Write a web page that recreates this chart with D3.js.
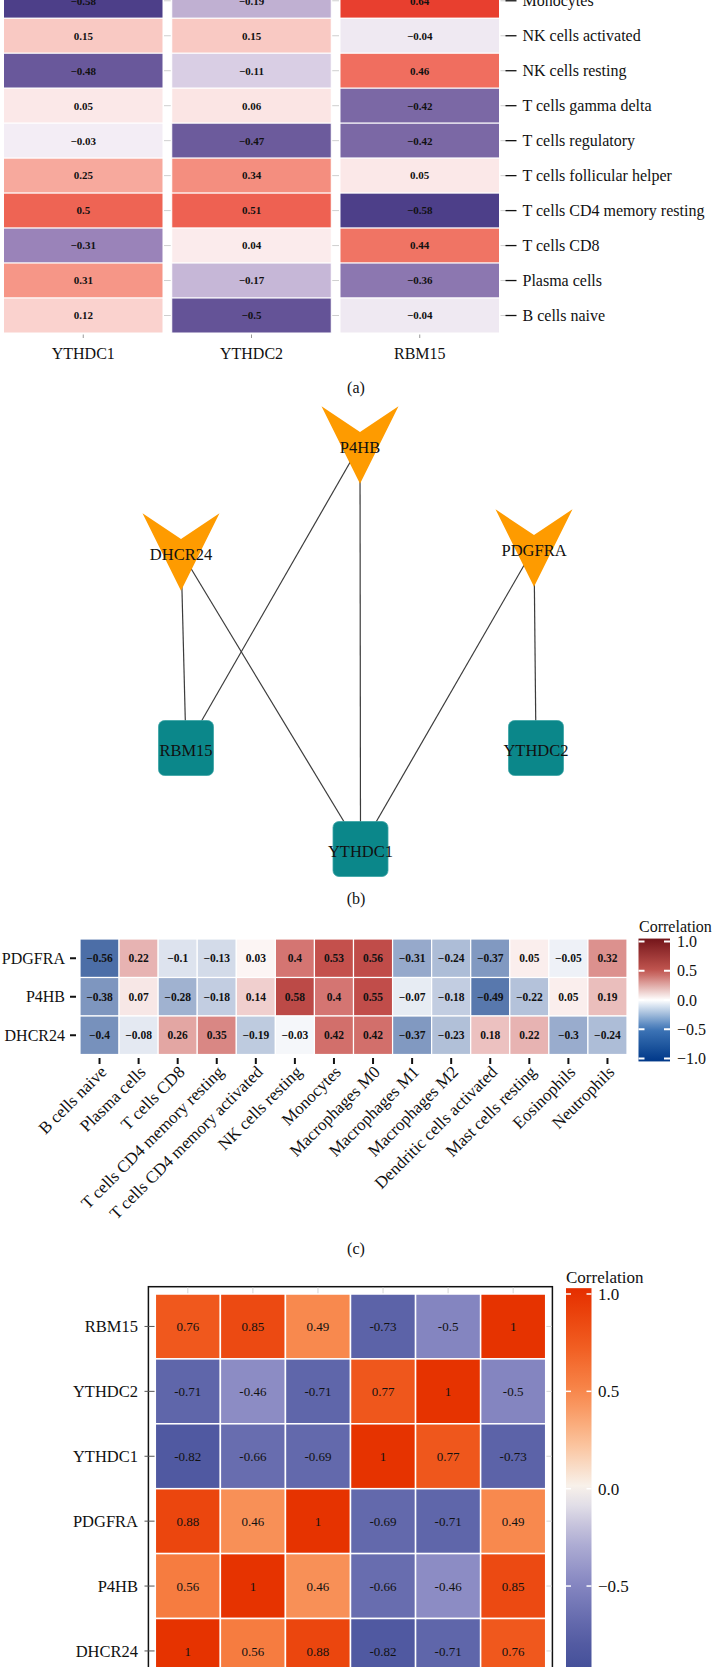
<!DOCTYPE html>
<html>
<head>
<meta charset="utf-8">
<script src="https://cdn.jsdelivr.net/npm/d3@7"></script>
<style>
  body { margin: 0; background: #fff; }
  svg text { font-family: "Liberation Serif", "DejaVu Serif", serif; fill: #111; }
</style>
</head>
<body>
<div id="chart"></div>
<script>
// ---------- data ----------
// (a) gene vs immune cell correlation
const aGenes = ["YTHDC1", "YTHDC2", "RBM15"]
const aCells = ["Monocytes", "NK cells activated", "NK cells resting", "T cells gamma delta",
  "T cells regulatory", "T cells follicular helper", "T cells CD4 memory resting",
  "T cells CD8", "Plasma cells", "B cells naive"]
const aYTHDC1 = [-0.58, 0.15, -0.48, 0.05, -0.03, 0.25, 0.5, -0.31, 0.31, 0.12]
const aYTHDC2 = [-0.19, 0.15, -0.11, 0.06, -0.47, 0.34, 0.51, 0.04, -0.17, -0.5]
const aRBM15 = [0.64, -0.04, 0.46, -0.42, -0.42, 0.05, -0.58, 0.44, -0.36, -0.04]

// (b) network
const netNodes = [
  { id: "P4HB", kind: "hub", lx: 179, ly: 0 },
  { id: "DHCR24", kind: "hub", lx: 0, ly: 107 },
  { id: "PDGFRA", kind: "hub", lx: 353, ly: 103 },
  { id: "RBM15", kind: "m6a", lx: 5, ly: 303 },
  { id: "YTHDC2", kind: "m6a", lx: 355, ly: 303 },
  { id: "YTHDC1", kind: "m6a", lx: 179.5, ly: 404 }
]
const netEdges = [["DHCR24", "RBM15"], ["DHCR24", "YTHDC1"], ["P4HB", "RBM15"],
  ["P4HB", "YTHDC1"], ["PDGFRA", "YTHDC1"], ["PDGFRA", "YTHDC2"]]

// (c) hub gene vs immune cell correlation
const cCells = ["B cells naive", "Plasma cells", "T cells CD8", "T cells CD4 memory resting",
  "T cells CD4 memory activated", "NK cells resting", "Monocytes", "Macrophages M0",
  "Macrophages M1", "Macrophages M2", "Dendritic cells activated", "Mast cells resting",
  "Eosinophils", "Neutrophils"]
const cGenes = ["PDGFRA", "P4HB", "DHCR24"]
const cPDGFRA = [-0.56, 0.22, -0.1, -0.13, 0.03, 0.4, 0.53, 0.56, -0.31, -0.24, -0.37, 0.05, -0.05, 0.32]
const cP4HB = [-0.38, 0.07, -0.28, -0.18, 0.14, 0.58, 0.4, 0.55, -0.07, -0.18, -0.49, -0.22, 0.05, 0.19]
const cDHCR24 = [-0.4, -0.08, 0.26, 0.35, -0.19, -0.03, 0.42, 0.42, -0.37, -0.23, 0.18, 0.22, -0.3, -0.24]
const cTicks = [-1, -0.5, 0, 0.5, 1]

// (d) gene-gene correlation
const dCols = ["DHCR24", "P4HB", "PDGFRA", "YTHDC1", "YTHDC2", "RBM15"]
const dRows = ["RBM15", "YTHDC2", "YTHDC1", "PDGFRA", "P4HB", "DHCR24"]
const dDHCR24 = [1, 0.56, 0.88, -0.82, -0.71, 0.76]
const dP4HB = [0.56, 1, 0.46, -0.66, -0.46, 0.85]
const dPDGFRA = [0.88, 0.46, 1, -0.69, -0.71, 0.49]
const dYTHDC1 = [-0.82, -0.66, -0.69, 1, 0.77, -0.73]
const dYTHDC2 = [-0.71, -0.46, -0.71, 0.77, 1, -0.5]
const dRBM15 = [0.76, 0.85, 0.49, -0.73, -0.5, 1]
const dTicks = [-0.5, 0, 0.5, 1]

const minus = v => String(v).replace("-", "\u2212")

const svg = d3.select("#chart").append("svg")
  .attr("width", 712)
  .attr("height", 1667)

// ---------- (a) ----------
const aSeries = { YTHDC1: aYTHDC1, YTHDC2: aYTHDC2, RBM15: aRBM15 }
const fx = d3.scaleBand().domain(aGenes).range([3.5, 499.5]).paddingInner(0.052)
const ya = d3.scaleBand().domain(aCells).range([-16.7, 333])
const aColor = d3.scaleLinear()
  .domain([-0.6, -0.3, 0, 0.3, 0.65])
  .range(["#473a85", "#9d86bb", "#fcf8fb", "#f6998a", "#e83c2c"])

const aData = aGenes.flatMap(g => aCells.map((c, i) => ({ gene: g, cell: c, v: aSeries[g][i] })))
const gA = svg.append("g")

// gray ticks between facets
aGenes.forEach((g, j) => {
  const x1 = fx(g) + fx.bandwidth() + 1
  const x2 = j < aGenes.length - 1 ? fx(aGenes[j + 1]) - 1 : x1 + 6
  gA.selectAll(null).data(aCells).enter().append("line")
    .attr("x1", x1).attr("x2", x2)
    .attr("y1", c => ya(c) + ya.bandwidth() / 2)
    .attr("y2", c => ya(c) + ya.bandwidth() / 2)
    .attr("stroke", "#cfcfcf").attr("stroke-width", 1)
})

gA.selectAll("rect").data(aData).enter().append("rect")
  .attr("x", d => fx(d.gene))
  .attr("y", d => ya(d.cell))
  .attr("width", fx.bandwidth())
  .attr("height", ya.bandwidth())
  .attr("fill", d => aColor(d.v))
  .attr("stroke", "#fff").attr("stroke-width", 1)

gA.selectAll("text.val").data(aData).enter().append("text")
  .attr("x", d => fx(d.gene) + fx.bandwidth() / 2)
  .attr("y", d => ya(d.cell) + ya.bandwidth() / 2)
  .attr("dy", "0.35em")
  .attr("text-anchor", "middle")
  .attr("font-size", 11).attr("font-weight", "bold")
  .text(d => minus(d.v))

// right axis: dash + label
const aRight = fx("RBM15") + fx.bandwidth()
gA.selectAll("line.rt").data(aCells).enter().append("line")
  .attr("x1", aRight + 6).attr("x2", aRight + 17)
  .attr("y1", c => ya(c) + ya.bandwidth() / 2)
  .attr("y2", c => ya(c) + ya.bandwidth() / 2)
  .attr("stroke", "#111").attr("stroke-width", 1.3)
gA.selectAll("text.rl").data(aCells).enter().append("text")
  .attr("x", aRight + 23)
  .attr("y", c => ya(c) + ya.bandwidth() / 2)
  .attr("dy", "0.35em")
  .attr("font-size", 16)
  .text(c => c)

// bottom axis
gA.selectAll("line.bt").data(aGenes).enter().append("line")
  .attr("x1", g => fx(g) + fx.bandwidth() / 2).attr("x2", g => fx(g) + fx.bandwidth() / 2)
  .attr("y1", 334.5).attr("y2", 338)
  .attr("stroke", "#999").attr("stroke-width", 1)
gA.selectAll("text.bl").data(aGenes).enter().append("text")
  .attr("x", g => fx(g) + fx.bandwidth() / 2)
  .attr("y", 353).attr("dy", "0.35em")
  .attr("text-anchor", "middle").attr("font-size", 16)
  .text(g => g)

svg.append("text").attr("x", 356).attr("y", 387).attr("dy", "0.35em")
  .attr("text-anchor", "middle").attr("font-size", 16).text("(a)")

// ---------- (b) ----------
const nx = d3.scaleLinear().domain([0, 355]).range([181, 536])
const ny = d3.scaleLinear().domain([0, 404]).range([445, 849])
const nodeById = new Map(netNodes.map(n => [n.id, n]))
const gB = svg.append("g")

gB.selectAll("line").data(netEdges).enter().append("line")
  .attr("x1", e => nx(nodeById.get(e[0]).lx))
  .attr("y1", e => ny(nodeById.get(e[0]).ly))
  .attr("x2", e => nx(nodeById.get(e[1]).lx))
  .attr("y2", e => ny(nodeById.get(e[1]).ly))
  .attr("stroke", "#3c3c3c").attr("stroke-width", 1.2)

const vShape = "M-38.5,-38.7 L0,-13 L38.5,-38.7 L0,38.7 Z"
const nodes = gB.selectAll("g.node").data(netNodes).enter().append("g")
  .attr("transform", n => `translate(${nx(n.lx)},${ny(n.ly)})`)
nodes.filter(n => n.kind === "hub").append("path")
  .attr("d", vShape).attr("fill", "#fe9b00")
nodes.filter(n => n.kind === "m6a").append("rect")
  .attr("x", -27.5).attr("y", -27.5).attr("width", 55).attr("height", 55)
  .attr("rx", 6).attr("fill", "#0b878a")
  .attr("stroke", "#3aa3a5").attr("stroke-width", 0.8)
nodes.append("text")
  .attr("y", 2)
  .attr("dy", "0.35em")
  .attr("text-anchor", "middle").attr("font-size", 16.5)
  .text(n => n.id)

svg.append("text").attr("x", 356).attr("y", 898).attr("dy", "0.35em")
  .attr("text-anchor", "middle").attr("font-size", 16).text("(b)")

// ---------- (c) ----------
const cSeries = { PDGFRA: cPDGFRA, P4HB: cP4HB, DHCR24: cDHCR24 }
const xc = d3.scaleBand().domain(cCells).range([80, 627])
const yc = d3.scaleBand().domain(cGenes).range([939, 1054.5])
const cColor = d3.scaleLinear()
  .domain([-1, -0.5, 0, 0.5, 1])
  .range(["#0a3d8a", "#5575ab", "#ffffff", "#c9534f", "#7a1a1e"])
const cLegendColor = d3.scaleLinear()
  .domain([-1, -0.5, 0, 0.5, 1])
  .range(["#053d8c", "#3e75b6", "#ffffff", "#c25650", "#7b1b1f"])

const cData = cGenes.flatMap(g => cCells.map((c, i) => ({ gene: g, cell: c, v: cSeries[g][i] })))
const gC = svg.append("g")

gC.selectAll("rect").data(cData).enter().append("rect")
  .attr("x", d => xc(d.cell))
  .attr("y", d => yc(d.gene))
  .attr("width", xc.bandwidth())
  .attr("height", yc.bandwidth())
  .attr("fill", d => cColor(d.v))
  .attr("stroke", "#fff").attr("stroke-width", 1.2)

gC.selectAll("text.val").data(cData).enter().append("text")
  .attr("x", d => xc(d.cell) + xc.bandwidth() / 2)
  .attr("y", d => yc(d.gene) + yc.bandwidth() / 2)
  .attr("dy", "0.35em")
  .attr("text-anchor", "middle")
  .attr("font-size", 11.5).attr("font-weight", "bold")
  .text(d => minus(d.v))

// y axis
gC.selectAll("line.yt").data(cGenes).enter().append("line")
  .attr("x1", 70).attr("x2", 76)
  .attr("y1", g => yc(g) + yc.bandwidth() / 2).attr("y2", g => yc(g) + yc.bandwidth() / 2)
  .attr("stroke", "#111").attr("stroke-width", 2)
gC.selectAll("text.yl").data(cGenes).enter().append("text")
  .attr("x", 65).attr("y", g => yc(g) + yc.bandwidth() / 2).attr("dy", "0.35em")
  .attr("text-anchor", "end").attr("font-size", 16)
  .text(g => g)

// x axis
gC.selectAll("line.xt").data(cCells).enter().append("line")
  .attr("x1", c => xc(c) + xc.bandwidth() / 2).attr("x2", c => xc(c) + xc.bandwidth() / 2)
  .attr("y1", 1058).attr("y2", 1064)
  .attr("stroke", "#111").attr("stroke-width", 2)
gC.selectAll("text.xl").data(cCells).enter().append("text")
  .attr("transform", c => `translate(${xc(c) + xc.bandwidth() / 2 + 8},${1073}) rotate(-45)`)
  .attr("text-anchor", "end").attr("font-size", 17)
  .text(c => c)

// legend
const cLy = d3.scaleLinear().domain([-1, 1]).range([1058.5, 941.5])
const defs = svg.append("defs")
const gradC = defs.append("linearGradient").attr("id", "gradC")
  .attr("x1", 0).attr("x2", 0).attr("y1", 1).attr("y2", 0)
d3.range(0, 1.0001, 0.05).forEach(t => {
  gradC.append("stop").attr("offset", t).attr("stop-color", cLegendColor(-1.05 + 2.1 * t))
})
gC.append("rect").attr("x", 638.5).attr("y", cLy(1.05)).attr("width", 31.5)
  .attr("height", cLy(-1.05) - cLy(1.05)).attr("fill", "url(#gradC)")
cTicks.forEach(t => {
  gC.append("line").attr("x1", 638.5).attr("x2", 644.5).attr("y1", cLy(t)).attr("y2", cLy(t))
    .attr("stroke", "#fff").attr("stroke-width", 2)
  gC.append("line").attr("x1", 664).attr("x2", 670).attr("y1", cLy(t)).attr("y2", cLy(t))
    .attr("stroke", "#fff").attr("stroke-width", 2)
})
gC.selectAll("text.lg").data(cTicks).enter().append("text")
  .attr("x", 677).attr("y", t => cLy(t)).attr("dy", "0.35em")
  .attr("font-size", 16)
  .text(t => minus(d3.format(".1f")(t)))
gC.append("text").attr("x", 639).attr("y", 926).attr("dy", "0.35em")
  .attr("font-size", 16).text("Correlation")

svg.append("text").attr("x", 356).attr("y", 1248).attr("dy", "0.35em")
  .attr("text-anchor", "middle").attr("font-size", 16).text("(c)")

// ---------- (d) ----------
const dSeries = { DHCR24: dDHCR24, P4HB: dP4HB, PDGFRA: dPDGFRA, YTHDC1: dYTHDC1, YTHDC2: dYTHDC2, RBM15: dRBM15 }
const xd = d3.scaleBand().domain(dCols).range([155.3, 545.7])
const yd = d3.scaleBand().domain(dRows).range([1294, 1683.4])
const dColor = d3.scaleLinear()
  .domain([-1, -0.75, -0.5, -0.25, 0, 0.25, 0.5, 0.75, 1])
  .range(["#3b4893", "#5860a6", "#8485c0", "#b5b3d6", "#f8f4f0", "#fbbe94", "#f8874b", "#f05a1e", "#e63300"])

const dData = dRows.flatMap(r => dCols.map((c, i) => ({ row: r, col: c, v: dSeries[r][i] })))
const gD = svg.append("g")

gD.append("rect").attr("x", 148.4).attr("y", 1286.7).attr("width", 404).attr("height", 500)
  .attr("fill", "none").attr("stroke", "#111").attr("stroke-width", 1.5)

gD.selectAll("line.tt").data(dCols).enter().append("line")
  .attr("x1", c => xd(c) + xd.bandwidth() / 2).attr("x2", c => xd(c) + xd.bandwidth() / 2)
  .attr("y1", 1287.5).attr("y2", 1294)
  .attr("stroke", "#d6d6d6").attr("stroke-width", 1)
gD.selectAll("line.rt").data(dRows).enter().append("line")
  .attr("x1", 545.7).attr("x2", 552)
  .attr("y1", r => yd(r) + yd.bandwidth() / 2).attr("y2", r => yd(r) + yd.bandwidth() / 2)
  .attr("stroke", "#d6d6d6").attr("stroke-width", 1)
gD.selectAll("line.lt").data(dRows).enter().append("line")
  .attr("x1", 144.5).attr("x2", 155)
  .attr("y1", r => yd(r) + yd.bandwidth() / 2).attr("y2", r => yd(r) + yd.bandwidth() / 2)
  .attr("stroke", "#555").attr("stroke-width", 1)

gD.selectAll("rect.cell").data(dData).enter().append("rect")
  .attr("x", d => xd(d.col))
  .attr("y", d => yd(d.row))
  .attr("width", xd.bandwidth())
  .attr("height", yd.bandwidth())
  .attr("fill", d => dColor(d.v))
  .attr("stroke", "#fff").attr("stroke-width", 1.5)

gD.selectAll("text.val").data(dData).enter().append("text")
  .attr("x", d => xd(d.col) + xd.bandwidth() / 2)
  .attr("y", d => yd(d.row) + yd.bandwidth() / 2)
  .attr("dy", "0.35em")
  .attr("text-anchor", "middle").attr("font-size", 13)
  .text(d => d.v)

gD.selectAll("text.yl").data(dRows).enter().append("text")
  .attr("x", 138).attr("y", r => yd(r) + yd.bandwidth() / 2).attr("dy", "0.35em")
  .attr("text-anchor", "end").attr("font-size", 16.5)
  .text(r => r)

// legend
const dLy = d3.scaleLinear().domain([-1, 1]).range([1683.4, 1294])
const gradD = defs.append("linearGradient").attr("id", "gradD")
  .attr("x1", 0).attr("x2", 0).attr("y1", 1).attr("y2", 0)
d3.range(0, 1.0001, 0.05).forEach(t => {
  gradD.append("stop").attr("offset", t).attr("stop-color", dColor(-1 + 2.03 * t))
})
gD.append("rect").attr("x", 566).attr("y", dLy(1.03)).attr("width", 25.5)
  .attr("height", dLy(-1) - dLy(1.03)).attr("fill", "url(#gradD)")
dTicks.forEach(t => {
  gD.append("line").attr("x1", 566).attr("x2", 571).attr("y1", dLy(t)).attr("y2", dLy(t))
    .attr("stroke", "#fff").attr("stroke-width", 1.5)
  gD.append("line").attr("x1", 586.5).attr("x2", 591.5).attr("y1", dLy(t)).attr("y2", dLy(t))
    .attr("stroke", "#fff").attr("stroke-width", 1.5)
})
gD.selectAll("text.lg").data(dTicks).enter().append("text")
  .attr("x", 598).attr("y", t => dLy(t)).attr("dy", "0.35em")
  .attr("font-size", 17)
  .text(t => minus(d3.format(".1f")(t)))
gD.append("text").attr("x", 566).attr("y", 1277).attr("dy", "0.35em")
  .attr("font-size", 17).text("Correlation")
</script>
</body>
</html>
